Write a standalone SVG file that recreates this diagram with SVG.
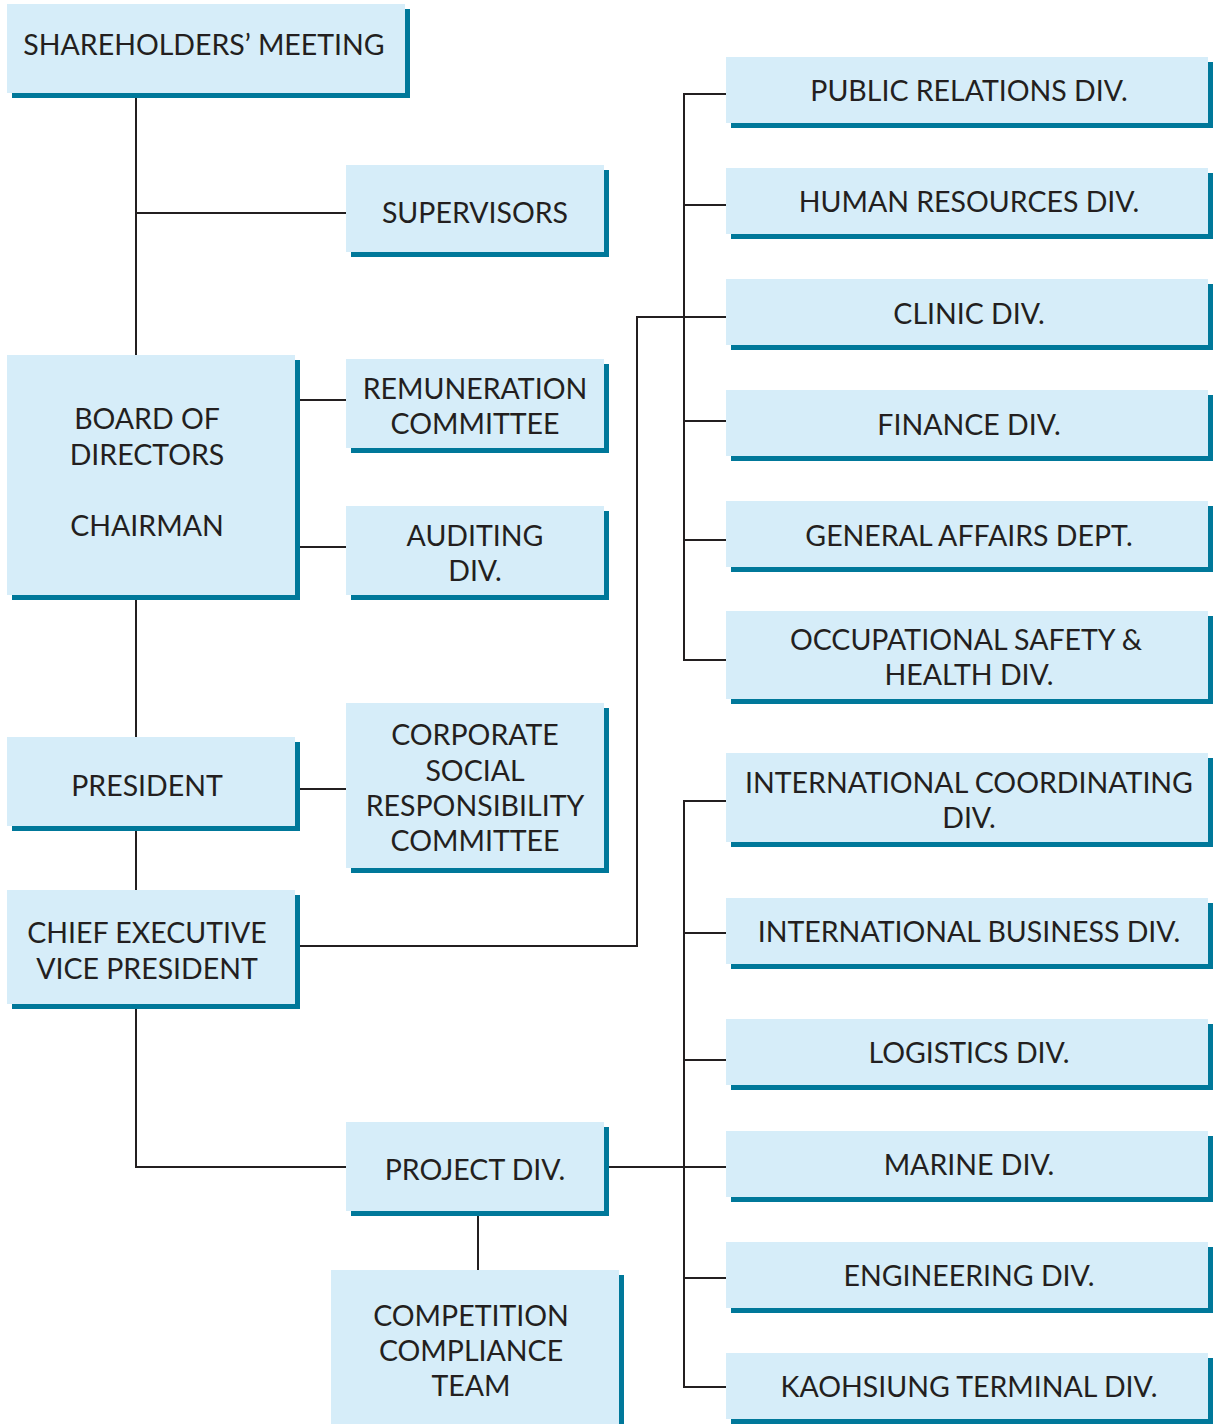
<svg xmlns="http://www.w3.org/2000/svg" width="1215" height="1424" viewBox="0 0 1215 1424">
<style>
.b{fill:#D6EDF9}
.s{fill:#00789A}
.t{font-family:Lato,"Liberation Sans",sans-serif;font-size:28.5px;fill:#231F20;text-anchor:middle}
.c{fill:none;stroke:#231F20;stroke-width:2}
</style>
<rect width="1215" height="1424" fill="#fff"/>
<g id="connectors">
<path class="c" d="M136 93V355M136 213H346"/>
<path class="c" d="M299 400H346M299 547H346"/>
<path class="c" d="M136 600V737M300 789H346M136 831V890"/>
<path class="c" d="M299 946H637V317H726"/>
<path class="c" d="M726 94H684V660H726M684 205H726M684 421H726M684 540H726"/>
<path class="c" d="M136 1008V1167H346"/>
<path class="c" d="M608 1167H726M726 801H684V1387H726M684 933H726M684 1060H726M684 1278H726"/>
<path class="c" d="M478 1215V1270"/>
</g>
<g id="shareholders"><rect class="s" x="12" y="9" width="398" height="89"/><rect class="b" x="7" y="4" width="398" height="89"/><text class="t" x="204" y="55">SHAREHOLDERS’ MEETING</text></g>
<g id="supervisors"><rect class="s" x="351" y="170" width="258" height="87"/><rect class="b" x="346" y="165" width="258" height="87"/><text class="t" x="475" y="223">SUPERVISORS</text></g>
<g id="board"><rect class="s" x="12" y="360" width="288" height="240"/><rect class="b" x="7" y="355" width="288" height="240"/><text class="t" x="147" y="429">BOARD OF</text><text class="t" x="147" y="465">DIRECTORS</text><text class="t" x="147" y="536">CHAIRMAN</text></g>
<g id="remuneration"><rect class="s" x="351" y="364" width="258" height="89"/><rect class="b" x="346" y="359" width="258" height="89"/><text class="t" x="475" y="399">REMUNERATION</text><text class="t" x="475" y="434">COMMITTEE</text></g>
<g id="auditing"><rect class="s" x="351" y="511" width="258" height="89"/><rect class="b" x="346" y="506" width="258" height="89"/><text class="t" x="475" y="546">AUDITING</text><text class="t" x="475" y="581">DIV.</text></g>
<g id="president"><rect class="s" x="12" y="742" width="288" height="89"/><rect class="b" x="7" y="737" width="288" height="89"/><text class="t" x="147" y="796">PRESIDENT</text></g>
<g id="csr"><rect class="s" x="351" y="708" width="258" height="165"/><rect class="b" x="346" y="703" width="258" height="165"/><text class="t" x="475" y="745">CORPORATE</text><text class="t" x="475" y="781">SOCIAL</text><text class="t" x="475" y="816">RESPONSIBILITY</text><text class="t" x="475" y="851">COMMITTEE</text></g>
<g id="cevp"><rect class="s" x="12" y="895" width="288" height="114"/><rect class="b" x="7" y="890" width="288" height="114"/><text class="t" x="147" y="943">CHIEF EXECUTIVE</text><text class="t" x="147" y="979">VICE PRESIDENT</text></g>
<g id="project"><rect class="s" x="351" y="1127" width="258" height="89"/><rect class="b" x="346" y="1122" width="258" height="89"/><text class="t" x="475" y="1180">PROJECT DIV.</text></g>
<g id="competition"><rect class="s" x="336" y="1275" width="288" height="160"/><rect class="b" x="331" y="1270" width="288" height="160"/><text class="t" x="471" y="1326">COMPETITION</text><text class="t" x="471" y="1361">COMPLIANCE</text><text class="t" x="471" y="1396">TEAM</text></g>
<g id="pr"><rect class="s" x="731" y="62" width="482" height="66"/><rect class="b" x="726" y="57" width="482" height="66"/><text class="t" x="969" y="101">PUBLIC RELATIONS DIV.</text></g>
<g id="hr"><rect class="s" x="731" y="173" width="482" height="66"/><rect class="b" x="726" y="168" width="482" height="66"/><text class="t" x="969" y="212">HUMAN RESOURCES DIV.</text></g>
<g id="clinic"><rect class="s" x="731" y="284" width="482" height="66"/><rect class="b" x="726" y="279" width="482" height="66"/><text class="t" x="969" y="324">CLINIC DIV.</text></g>
<g id="finance"><rect class="s" x="731" y="395" width="482" height="66"/><rect class="b" x="726" y="390" width="482" height="66"/><text class="t" x="969" y="435">FINANCE DIV.</text></g>
<g id="general"><rect class="s" x="731" y="506" width="482" height="66"/><rect class="b" x="726" y="501" width="482" height="66"/><text class="t" x="969" y="546">GENERAL AFFAIRS DEPT.</text></g>
<g id="osh"><rect class="s" x="731" y="616" width="482" height="88"/><rect class="b" x="726" y="611" width="482" height="88"/><text class="t" x="966" y="650">OCCUPATIONAL SAFETY &amp;</text><text class="t" x="969" y="685">HEALTH DIV.</text></g>
<g id="intlcoord"><rect class="s" x="731" y="758" width="482" height="89"/><rect class="b" x="726" y="753" width="482" height="89"/><text class="t" x="969" y="793">INTERNATIONAL COORDINATING</text><text class="t" x="969" y="828">DIV.</text></g>
<g id="intlbiz"><rect class="s" x="731" y="903" width="482" height="66"/><rect class="b" x="726" y="898" width="482" height="66"/><text class="t" x="969" y="942">INTERNATIONAL BUSINESS DIV.</text></g>
<g id="logistics"><rect class="s" x="731" y="1024" width="482" height="66"/><rect class="b" x="726" y="1019" width="482" height="66"/><text class="t" x="969" y="1063">LOGISTICS DIV.</text></g>
<g id="marine"><rect class="s" x="731" y="1136" width="482" height="66"/><rect class="b" x="726" y="1131" width="482" height="66"/><text class="t" x="969" y="1175">MARINE DIV.</text></g>
<g id="engineering"><rect class="s" x="731" y="1247" width="482" height="66"/><rect class="b" x="726" y="1242" width="482" height="66"/><text class="t" x="969" y="1286">ENGINEERING DIV.</text></g>
<g id="kaohsiung"><rect class="s" x="731" y="1358" width="482" height="66"/><rect class="b" x="726" y="1353" width="482" height="66"/><text class="t" x="969" y="1397">KAOHSIUNG TERMINAL DIV.</text></g>
</svg>
